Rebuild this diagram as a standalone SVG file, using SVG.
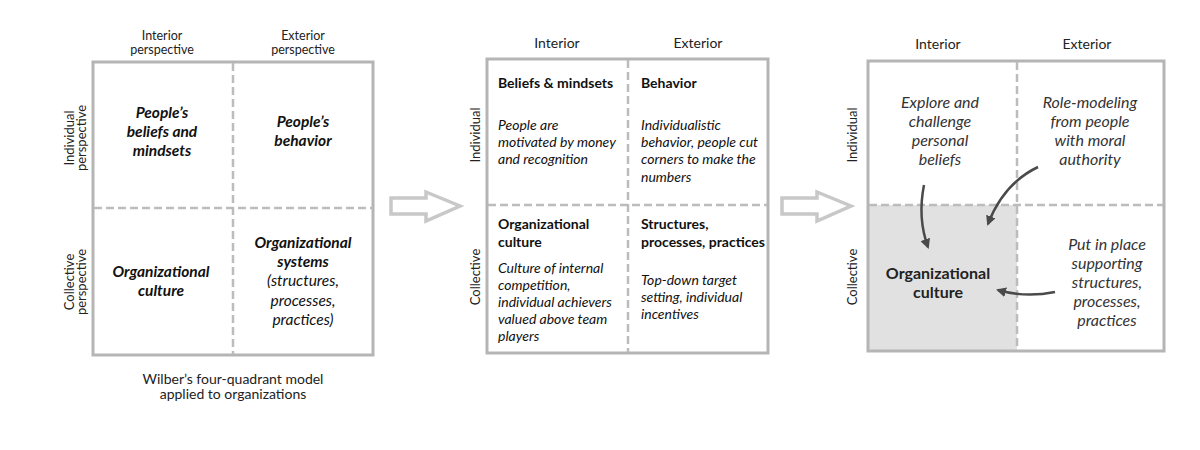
<svg xmlns="http://www.w3.org/2000/svg" width="1200" height="450" viewBox="0 0 1200 450">
<defs>
<style>
.box{fill:none;stroke:#b5b5b5;stroke-width:3}
.dash{stroke:#bcbcbc;stroke-width:2.5;stroke-dasharray:8 4;fill:none}
.hdr{font-family:Lato,"Liberation Sans",sans-serif;font-size:12.5px;fill:#222;text-anchor:middle}
.hdr2{font-family:Lato,"Liberation Sans",sans-serif;font-size:14px;fill:#222;text-anchor:middle}
.side{font-family:Lato,"Liberation Sans",sans-serif;font-size:13px;fill:#222;text-anchor:middle}
.bi{font-family:Lato,"Liberation Sans",sans-serif;font-size:15.5px;font-weight:bold;font-style:italic;fill:#111;text-anchor:middle}
.it{font-family:Lato,"Liberation Sans",sans-serif;font-size:15.5px;font-style:italic;fill:#111;text-anchor:middle}
.b2{font-family:Lato,"Liberation Sans",sans-serif;font-size:14px;font-weight:bold;fill:#111}
.i2{font-family:Lato,"Liberation Sans",sans-serif;font-size:14px;font-style:italic;fill:#111}
.i3{font-family:Lato,"Liberation Sans",sans-serif;font-size:16px;font-style:italic;fill:#333;text-anchor:middle}
.b3{font-family:Lato,"Liberation Sans",sans-serif;font-size:16px;font-weight:bold;fill:#222;text-anchor:middle}
.cap{font-family:Lato,"Liberation Sans",sans-serif;font-size:14px;fill:#222;text-anchor:middle}
.big{fill:#fff;stroke:#c8c8c8;stroke-width:3.5;stroke-linejoin:miter}
.cur{fill:none;stroke:#4a4a4a;stroke-width:2.5}
</style>
<marker id="ah" viewBox="0 0 10 10" refX="8" refY="5" markerWidth="4" markerHeight="4" orient="auto"><path d="M0,0 L10,5 L0,10 z" fill="#4a4a4a"/></marker>
</defs>
<rect width="1200" height="450" fill="#fff"/>

<g id="panel1">
<text class="hdr" x="162" y="40">Interior</text>
<text class="hdr" x="162" y="54">perspective</text>
<text class="hdr" x="303" y="40">Exterior</text>
<text class="hdr" x="303" y="54">perspective</text>
<rect class="box" x="93" y="62" width="280" height="293"/>
<line class="dash" x1="233" y1="63" x2="233" y2="354"/>
<line class="dash" x1="94" y1="208" x2="372" y2="208"/>
<text class="side" transform="translate(74,138) rotate(-90)"><tspan x="0" y="0">Individual</tspan><tspan x="0" y="12">perspective</tspan></text>
<text class="side" transform="translate(74,282) rotate(-90)"><tspan x="0" y="0">Collective</tspan><tspan x="0" y="12">perspective</tspan></text>
<g id="p1q1"><text class="bi" x="162" y="118">People’s</text><text class="bi" x="162" y="137">beliefs and</text><text class="bi" x="162" y="156">mindsets</text></g>
<g id="p1q2"><text class="bi" x="303" y="127">People’s</text><text class="bi" x="303" y="146">behavior</text></g>
<g id="p1q3"><text class="bi" x="161" y="277">Organizational</text><text class="bi" x="161" y="296">culture</text></g>
<g id="p1q4"><text class="bi" x="303" y="248">Organizational</text><text class="bi" x="303" y="267">systems</text><text class="it" x="303" y="286">(structures,</text><text class="it" x="303" y="306">processes,</text><text class="it" x="303" y="325">practices)</text></g>
<text class="cap" x="233" y="384">Wilber’s four-quadrant model</text>
<text class="cap" x="233" y="399">applied to organizations</text>
</g>

<g id="arrow1"><path class="big" d="M391,198 L426,198 L426,192 L460,206 L426,221 L426,214 L391,214 Z"/></g>

<g id="panel2">
<text class="hdr2" x="557" y="48">Interior</text>
<text class="hdr2" x="698" y="48">Exterior</text>
<rect class="box" x="487" y="59" width="281" height="294"/>
<line class="dash" x1="628" y1="60" x2="628" y2="352"/>
<line class="dash" x1="488" y1="205" x2="767" y2="205"/>
<text class="side" transform="translate(480,135) rotate(-90)">Individual</text>
<text class="side" transform="translate(480,277) rotate(-90)">Collective</text>
<g id="p2q1"><text class="b2" x="498" y="88">Beliefs &amp; mindsets</text><text class="i2" x="498" y="130">People are</text><text class="i2" x="498" y="147">motivated by money</text><text class="i2" x="498" y="164">and recognition</text></g>
<g id="p2q2"><text class="b2" x="641" y="88">Behavior</text><text class="i2" x="641" y="130">Individualistic</text><text class="i2" x="641" y="147">behavior, people cut</text><text class="i2" x="641" y="164">corners to make the</text><text class="i2" x="641" y="182">numbers</text></g>
<g id="p2q3"><text class="b2" x="498" y="229">Organizational</text><text class="b2" x="498" y="247">culture</text><text class="i2" x="498" y="273">Culture of internal</text><text class="i2" x="498" y="290">competition,</text><text class="i2" x="498" y="307">individual achievers</text><text class="i2" x="498" y="324">valued above team</text><text class="i2" x="498" y="341">players</text></g>
<g id="p2q4"><text class="b2" x="641" y="229">Structures,</text><text class="b2" x="641" y="247">processes, practices</text><text class="i2" x="641" y="285">Top-down target</text><text class="i2" x="641" y="302">setting, individual</text><text class="i2" x="641" y="319">incentives</text></g>
</g>

<g id="arrow2"><path class="big" d="M782,198 L817,198 L817,192 L851,206 L817,221 L817,214 L782,214 Z"/></g>

<g id="panel3">
<text class="hdr2" x="938" y="49">Interior</text>
<text class="hdr2" x="1087" y="49">Exterior</text>
<rect x="869" y="205" width="148" height="146" fill="#e1e1e1"/>
<rect class="box" x="868" y="61" width="296" height="290"/>
<line class="dash" x1="1017" y1="62" x2="1017" y2="350"/>
<line class="dash" x1="869" y1="205" x2="1163" y2="205"/>
<text class="side" transform="translate(857,135) rotate(-90)">Individual</text>
<text class="side" transform="translate(857,277) rotate(-90)">Collective</text>
<g id="p3q1"><text class="i3" x="940" y="108">Explore and</text><text class="i3" x="940" y="127">challenge</text><text class="i3" x="940" y="146">personal</text><text class="i3" x="940" y="165">beliefs</text></g>
<g id="p3q2"><text class="i3" x="1090" y="108">Role-modeling</text><text class="i3" x="1090" y="127">from people</text><text class="i3" x="1090" y="146">with moral</text><text class="i3" x="1090" y="165">authority</text></g>
<g id="p3q3"><text class="b3" x="938" y="279">Organizational</text><text class="b3" x="938" y="298">culture</text></g>
<g id="p3q4"><text class="i3" x="1107" y="250">Put in place</text><text class="i3" x="1107" y="269">supporting</text><text class="i3" x="1107" y="288">structures,</text><text class="i3" x="1107" y="307">processes,</text><text class="i3" x="1107" y="326">practices</text></g>
</g>

<g id="connectors">
<path class="cur" d="M924,185 C920,205 921,228 928,247" marker-end="url(#ah)"/>
<path class="cur" d="M1038,167 C1015,178 998,198 988,224" marker-end="url(#ah)"/>
<path class="cur" d="M1055,292 C1035,296 1015,295 998,290" marker-end="url(#ah)"/>
</g>
</svg>
